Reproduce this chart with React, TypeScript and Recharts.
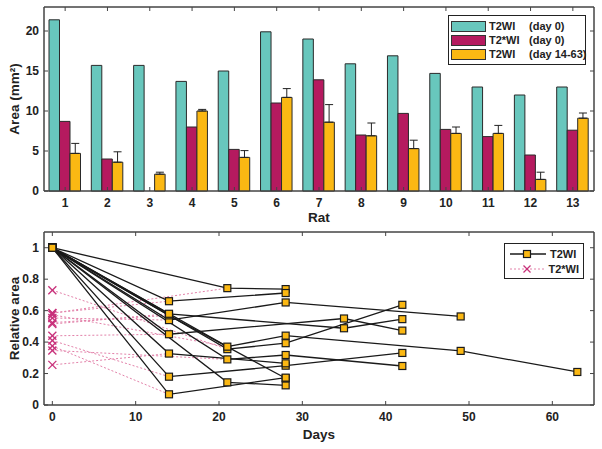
import {
  ComposedChart,
  Bar,
  ErrorBar,
  Line,
  Scatter,
  XAxis,
  YAxis,
  Legend,
  ReferenceArea,
} from 'recharts';

const FONT = '"Liberation Sans", Arial, sans-serif';

// --- top panel: lesion area per rat ---
const rats = ['1', '2', '3', '4', '5', '6', '7', '8', '9', '10', '11', '12', '13'];
const t2Day0 = [21.4, 15.7, 15.7, 13.7, 15.0, 19.9, 19.0, 15.9, 16.9, 14.7, 13.0, 12.0, 13.0];
const t2sDay0 = [8.7, 4.0, null, 8.0, 5.2, 11.0, 13.9, 7.0, 9.7, 7.7, 6.8, 4.5, 7.6];
const t2Late = [4.7, 3.6, 2.1, 10.0, 4.2, 11.7, 8.6, 6.9, 5.3, 7.2, 7.2, 1.45, 9.1];
const t2LateSd = [1.25, 1.3, 0.25, 0.2, 0.85, 1.1, 2.2, 1.6, 1.05, 0.8, 1.0, 0.9, 0.65];
const areaTicks = [0, 5, 10, 15, 20];

// --- bottom panel: relative area over time ---
const followDays: number[][] = [
  [14, 28, 42],
  [14, 28],
  [21, 28],
  [21, 28],
  [21, 28, 42],
  [14, 28, 49],
  [21, 28, 42],
  [14, 35, 42],
  [21, 28, 49, 63],
  [14, 28],
  [14, 35, 42],
  [14, 28],
  [14, 28],
];
const followArea: number[][] = [
  [0.18, 0.25, 0.331],
  [0.327, 0.265],
  [0.144, 0.125],
  [0.743, 0.737],
  [0.29, 0.318, 0.248],
  [0.54, 0.652, 0.563],
  [0.355, 0.393, 0.637],
  [0.45, 0.55, 0.473],
  [0.371, 0.441, 0.344, 0.21],
  [0.57, 0.17],
  [0.58, 0.488, 0.546],
  [0.068, 0.174],
  [0.66, 0.712],
];
const t2sRelative = [0.41, 0.255, null, 0.584, 0.347, 0.553, 0.73, 0.44, 0.574, 0.524, 0.515, 0.375, 0.585];
const dayTicks = [0, 10, 20, 30, 40, 50, 60];
const relTicks = [0, 0.2, 0.4, 0.6, 0.8, 1];

const COLORS = {
  teal: '#68c7bd',
  magenta: '#b51a5f',
  yellow: '#fbb813',
  outline: '#2a2a2a',
  axis: '#444',
  pink: '#e382aa',
  cross: '#c8317a',
};

const barLegend = [
  { name: 'T2WI', when: '(day 0)', color: COLORS.teal },
  { name: 'T2*WI', when: '(day 0)', color: COLORS.magenta },
  { name: 'T2WI', when: '(day 14-63)', color: COLORS.yellow },
];

const barData = rats.map((rat, i) => ({
  rat,
  t2: t2Day0[i],
  t2s: t2sDay0[i],
  late: t2Late[i],
  lateErr: [0, t2LateSd[i]],
}));

const ratSeries = rats.map((rat, i) => ({
  rat,
  t2: [{ day: 0, v: 1 }, ...followDays[i].map((d, j) => ({ day: d, v: followArea[i][j] }))],
  t2s:
    t2sRelative[i] == null
      ? null
      : [
          { day: 0, v: t2sRelative[i] },
          { day: followDays[i][0], v: followArea[i][0] },
        ],
}));
const squares = ratSeries.flatMap((s) => s.t2);

const tickStyle = { fill: '#222', fontSize: 12, fontWeight: 'bold', fontFamily: FONT };
const labelStyle = { fill: '#222', fontSize: 13.5, fontWeight: 'bold', fontFamily: FONT };
// frame axes: tick marks only, no labels
const noLabel = () => <g />;

function SquareDot(props: any) {
  const { cx, cy } = props;
  if (cx == null || cy == null) return <g />;
  return (
    <rect
      x={cx - 3.5}
      y={cy - 3.5}
      width={7}
      height={7}
      fill={COLORS.yellow}
      stroke="#1a1a1a"
      strokeWidth={1.2}
    />
  );
}

function CrossMark({ cx, cy, size = 4 }: { cx: number; cy: number; size?: number }) {
  return (
    <g stroke={COLORS.cross} strokeWidth={1.3}>
      <line x1={cx - size} y1={cy - size} x2={cx + size} y2={cy + size} />
      <line x1={cx - size} y1={cy + size} x2={cx + size} y2={cy - size} />
    </g>
  );
}

function BarLegend() {
  return (
    <div
      style={{
        border: '1px solid #222',
        background: '#fff',
        padding: '3px 2px',
        fontFamily: FONT,
        fontSize: 11,
        fontWeight: 'bold',
        color: '#222',
        whiteSpace: 'nowrap',
      }}
    >
      {barLegend.map((d, i) => (
        <div key={i} style={{ display: 'flex', alignItems: 'center', height: 14 }}>
          <span
            style={{
              display: 'inline-block',
              width: 33,
              height: 9,
              background: d.color,
              border: '1px solid #333',
              marginRight: 3,
              flexShrink: 0,
            }}
          />
          <span style={{ width: 40, flexShrink: 0 }}>{d.name}</span>
          <span>{d.when}</span>
        </div>
      ))}
    </div>
  );
}

function TimeLegend() {
  return (
    <div
      style={{
        border: '1px solid #222',
        background: '#fff',
        padding: '2px 4px',
        fontFamily: FONT,
        fontSize: 11,
        fontWeight: 'bold',
        color: '#222',
        whiteSpace: 'nowrap',
      }}
    >
      <div style={{ display: 'flex', alignItems: 'center', height: 15 }}>
        <svg width={38} height={12} style={{ marginRight: 3 }}>
          <line x1={1} y1={6} x2={37} y2={6} stroke="#1a1a1a" strokeWidth={1.3} />
          <SquareDot cx={18} cy={6} />
        </svg>
        T2WI
      </div>
      <div style={{ display: 'flex', alignItems: 'center', height: 15 }}>
        <svg width={38} height={12} style={{ marginRight: 3 }}>
          <line x1={1} y1={6} x2={37} y2={6} stroke={COLORS.pink} strokeWidth={1} strokeDasharray="2 2" />
          <CrossMark cx={18} cy={6} size={3.5} />
        </svg>
        T2*WI
      </div>
    </div>
  );
}

export default function App() {
  return (
    <div style={{ position: 'absolute', left: 0, top: 0, width: 602, height: 449, background: '#fff' }}>
      <ComposedChart
        width={602}
        height={225}
        data={barData}
        margin={{ top: 0, right: 0, left: 0, bottom: 0 }}
        barGap={0}
        barSize={10.5}
      >
        <XAxis
          dataKey="rat"
          height={34}
          stroke={COLORS.axis}
          tick={tickStyle}
          tickSize={-4}
          tickMargin={11}
          label={{ value: 'Rat', position: 'insideBottom', offset: 3, style: labelStyle }}
        />
        <XAxis xAxisId="top" dataKey="rat" orientation="top" height={7} interval={0} stroke={COLORS.axis} tick={noLabel} tickSize={-4} />
        <YAxis
          width={44}
          domain={[0, 23]}
          ticks={areaTicks}
          stroke={COLORS.axis}
          tick={tickStyle}
          tickSize={-4}
          tickMargin={9}
          label={{ value: 'Area (mm²)', angle: -90, position: 'insideLeft', dx: 9, style: { ...labelStyle, textAnchor: 'middle' } }}
        />
        <YAxis yAxisId="right" orientation="right" width={8} domain={[0, 23]} ticks={areaTicks} interval={0} stroke={COLORS.axis} tick={noLabel} tickSize={-4} />
        <ReferenceArea x1="1" x2="13" y1={0} y2={23} fill="none" stroke={COLORS.axis} strokeWidth={1} ifOverflow="visible" />
        <Legend
          content={() => <BarLegend />}
          layout="vertical"
          align="center"
          verticalAlign="middle"
          wrapperStyle={{ left: 448, top: 15, width: 138 }}
        />
        {/* invisible series so the top/right frame axes get a scale */}
        <Line xAxisId="top" yAxisId="right" dataKey="t2" stroke="none" dot={false} activeDot={false} legendType="none" isAnimationActive={false} />
        <Bar dataKey="t2" fill={COLORS.teal} stroke={COLORS.outline} strokeWidth={1} isAnimationActive={false} />
        <Bar dataKey="t2s" fill={COLORS.magenta} stroke={COLORS.outline} strokeWidth={1} isAnimationActive={false} />
        <Bar dataKey="late" fill={COLORS.yellow} stroke={COLORS.outline} strokeWidth={1} isAnimationActive={false}>
          <ErrorBar dataKey="lateErr" width={4} stroke="#222" strokeWidth={1} isAnimationActive={false} />
        </Bar>
      </ComposedChart>

      <ComposedChart width={602} height={224} margin={{ top: 0, right: 0, left: 0, bottom: 0 }}>
        <XAxis
          dataKey="day"
          type="number"
          domain={[-1, 65]}
          ticks={dayTicks}
          allowDataOverflow
          height={44}
          stroke={COLORS.axis}
          tick={tickStyle}
          tickSize={-4}
          tickMargin={11}
          label={{ value: 'Days', position: 'insideBottom', offset: 10, style: labelStyle }}
        />
        <XAxis xAxisId="top" dataKey="day" type="number" orientation="top" height={7} domain={[-1, 65]} ticks={dayTicks} interval={0} allowDataOverflow stroke={COLORS.axis} tick={noLabel} tickSize={-4} />
        <YAxis
          width={44}
          domain={[0, 1.1]}
          ticks={relTicks}
          allowDataOverflow
          stroke={COLORS.axis}
          tick={tickStyle}
          tickSize={-4}
          tickMargin={9}
          label={{ value: 'Relative area', angle: -90, position: 'insideLeft', dx: 9, style: { ...labelStyle, textAnchor: 'middle' } }}
        />
        <YAxis yAxisId="right" orientation="right" width={8} domain={[0, 1.1]} ticks={relTicks} interval={0} allowDataOverflow stroke={COLORS.axis} tick={noLabel} tickSize={-4} />
        <ReferenceArea x1={-1} x2={65} y1={0} y2={1.1} fill="none" stroke={COLORS.axis} strokeWidth={1} ifOverflow="visible" />
        <Legend
          content={() => <TimeLegend />}
          layout="vertical"
          align="center"
          verticalAlign="middle"
          wrapperStyle={{ left: 504, top: 18, width: 80 }}
        />
        {/* invisible series so the top/right frame axes get a scale */}
        <Line xAxisId="top" yAxisId="right" data={squares} dataKey="v" stroke="none" dot={false} activeDot={false} legendType="none" isAnimationActive={false} />
        {ratSeries.map((s) =>
          s.t2s ? (
            <Line
              key={`t2s-${s.rat}`}
              data={s.t2s}
              dataKey="v"
              stroke={COLORS.pink}
              strokeWidth={1}
              strokeDasharray="2 2"
              dot={(p: any) =>
                p.index === 0 ? <CrossMark key={`x-${s.rat}`} cx={p.cx} cy={p.cy} /> : <g key={`n-${s.rat}-${p.index}`} />
              }
              isAnimationActive={false}
              legendType="none"
            />
          ) : null
        )}
        {ratSeries.map((s) => (
          <Line
            key={`t2-${s.rat}`}
            data={s.t2}
            dataKey="v"
            stroke="#1a1a1a"
            strokeWidth={1.3}
            dot={false}
            isAnimationActive={false}
            legendType="none"
          />
        ))}
        <Scatter data={squares} dataKey="v" shape={(p: any) => <SquareDot {...p} />} isAnimationActive={false} legendType="none" />
      </ComposedChart>
    </div>
  );
}
